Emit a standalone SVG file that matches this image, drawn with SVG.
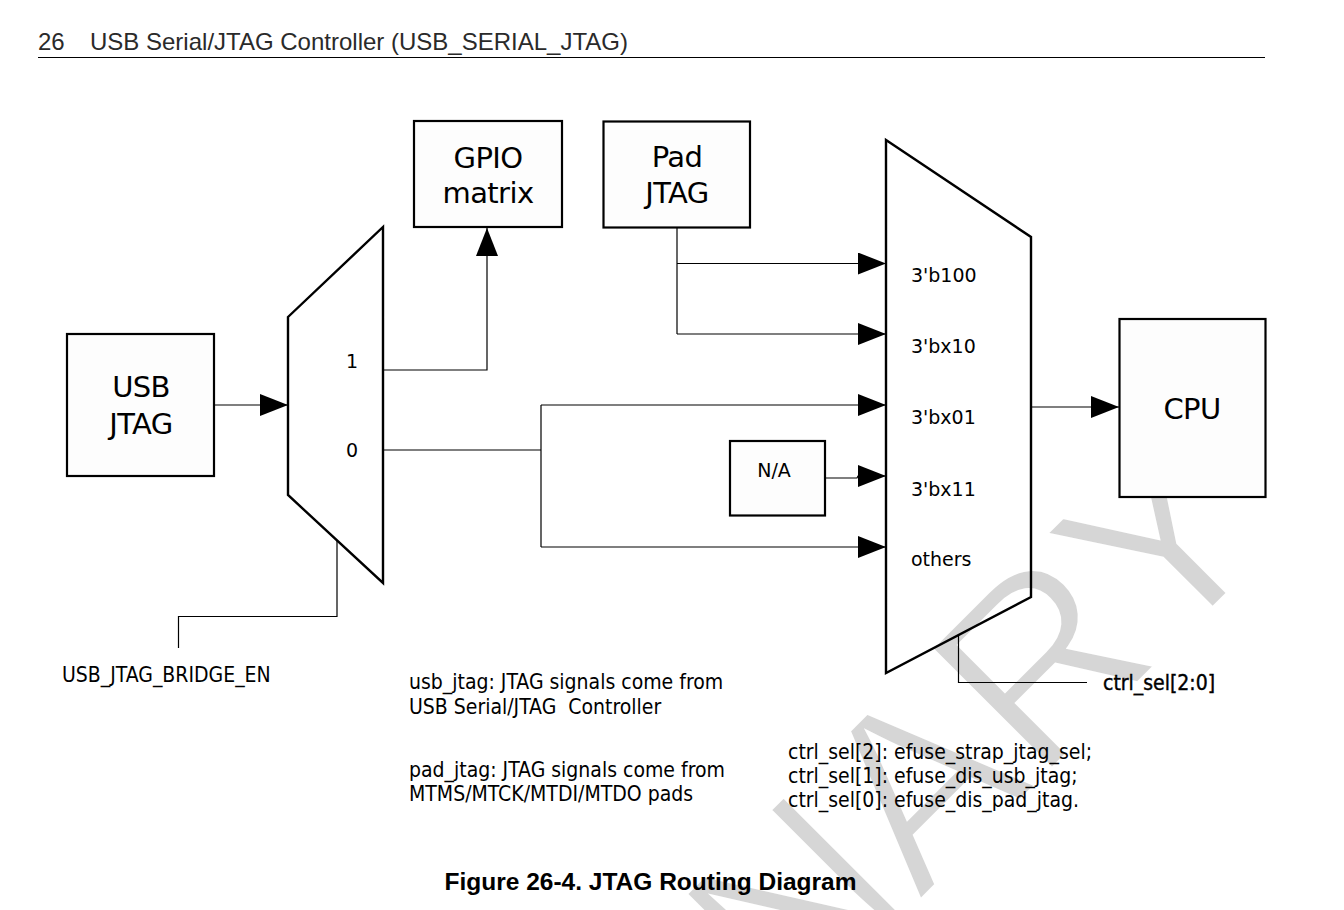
<svg xmlns="http://www.w3.org/2000/svg" width="1344" height="910" viewBox="0 0 1344 910">
<defs>
<marker id="ah" markerUnits="userSpaceOnUse" markerWidth="28" markerHeight="22" refX="28" refY="11" orient="auto">
<path d="M0,0 L28,11 L0,22 z" fill="#000"/>
</marker>
<style>
.box{fill:#fdfdfd;stroke:#000;stroke-width:2.2}
.mux{fill:none;stroke:#000;stroke-width:2.4;stroke-linejoin:miter}
.ln{fill:none;stroke:#000;stroke-width:1.2}
.ar{fill:none;stroke:#000;stroke-width:1.2;marker-end:url(#ah)}
.big{font-family:'DejaVu Sans',sans-serif;font-size:29px;text-anchor:middle;fill:#000;letter-spacing:-0.6px}
.lab{font-family:'DejaVu Sans',sans-serif;font-size:19px;fill:#000}
.cnd{font-family:'DejaVu Sans Condensed','DejaVu Sans',sans-serif;font-stretch:condensed;font-size:21px;fill:#000}
.wm{font-family:'Liberation Sans',Arial,sans-serif;font-size:250px;fill:#d6d6d6;stroke:#fff;stroke-width:5px}
.hd{font-family:'Liberation Sans',Arial,sans-serif;font-size:24px;fill:#2a2a2a}
</style>
</defs>
<rect width="1344" height="910" fill="#fff"/>
<g id="watermark">
<text class="wm" x="1280" y="542" text-anchor="end" transform="rotate(-45 1280 542)">PRELIMINARY</text>
</g>
<g id="header">
<text class="hd" x="38" y="50">26</text>
<text class="hd" x="90" y="50">USB Serial/JTAG Controller (USB_SERIAL_JTAG)</text>
<line x1="38" y1="57.5" x2="1265" y2="57.5" stroke="#000" stroke-width="1.2"/>
</g>
<g id="connectors">
<path class="ar" d="M214,405 H288"/>
<path class="ar" d="M383,370 H487 V228"/>
<path class="ln" d="M383,450 H541 M541,405 V547"/>
<path class="ar" d="M541,405 H886"/>
<path class="ar" d="M541,547 H886"/>
<path class="ln" d="M677,228 V334"/>
<path class="ar" d="M677,263.5 H886"/>
<path class="ar" d="M677,334 H886"/>
<path class="ar" d="M825,478 H857 L858,476 H886"/>
<path class="ar" d="M1031,407 H1119"/>
<path class="ln" d="M337,540 V616.5 H178.5 V648"/>
<path class="ln" d="M958.5,635 V682.5 H1087"/>
</g>
<g id="usb_jtag">
<rect class="box" x="67" y="334" width="147" height="142"/>
<text class="big" x="141" y="397">USB</text>
<text class="big" x="141" y="434">JTAG</text>
</g>
<g id="mux_left">
<polygon class="mux" points="288,317 383,227 383,583 288,495"/>
<text class="lab" x="352" y="368" text-anchor="middle">1</text>
<text class="lab" x="352" y="457" text-anchor="middle">0</text>
</g>
<g id="gpio_matrix">
<rect class="box" x="414" y="121" width="148" height="106"/>
<text class="big" x="488" y="168">GPIO</text>
<text class="big" x="488" y="203">matrix</text>
</g>
<g id="pad_jtag">
<rect class="box" x="603.5" y="121.5" width="146.5" height="106"/>
<text class="big" x="677" y="167">Pad</text>
<text class="big" x="677" y="203">JTAG</text>
</g>
<g id="mux_right">
<polygon class="mux" points="886,140 1031,237 1031,597 886,673"/>
<text class="lab" x="911" y="282">3'b100</text>
<text class="lab" x="911" y="353">3'bx10</text>
<text class="lab" x="911" y="424">3'bx01</text>
<text class="lab" x="911" y="496">3'bx11</text>
<text class="lab" x="911" y="566">others</text>
</g>
<g id="na">
<rect class="box" x="730" y="441" width="95" height="74.5"/>
<text class="lab" x="774" y="477" text-anchor="middle" font-size="18px">N/A</text>
</g>
<g id="cpu">
<rect class="box" x="1119.5" y="319" width="146" height="178"/>
<text class="big" x="1192" y="419">CPU</text>
</g>
<g id="labels">
<text class="cnd" x="62" y="682">USB_JTAG_BRIDGE_EN</text>
<text class="cnd" x="1103" y="690" stroke="#000" stroke-width="0.4">ctrl_sel[2:0]</text>
<text class="cnd" x="409" y="689">usb_jtag: JTAG signals come from</text>
<text class="cnd" x="409" y="714" xml:space="preserve">USB Serial/JTAG  Controller</text>
<text class="cnd" x="409" y="777">pad_jtag: JTAG signals come from</text>
<text class="cnd" x="409" y="801">MTMS/MTCK/MTDI/MTDO pads</text>
<text class="cnd" x="788" y="759" font-size="20.5px">ctrl_sel[2]: efuse_strap_jtag_sel;</text>
<text class="cnd" x="788" y="783" font-size="20.5px">ctrl_sel[1]: efuse_dis_usb_jtag;</text>
<text class="cnd" x="788" y="807" font-size="20.5px">ctrl_sel[0]: efuse_dis_pad_jtag.</text>
</g>
<g id="caption">
<text x="650.5" y="890" text-anchor="middle" font-family="'Liberation Sans',Arial,sans-serif" font-size="24.5px" font-weight="bold" fill="#000">Figure 26-4. JTAG Routing Diagram</text>
</g>
</svg>
